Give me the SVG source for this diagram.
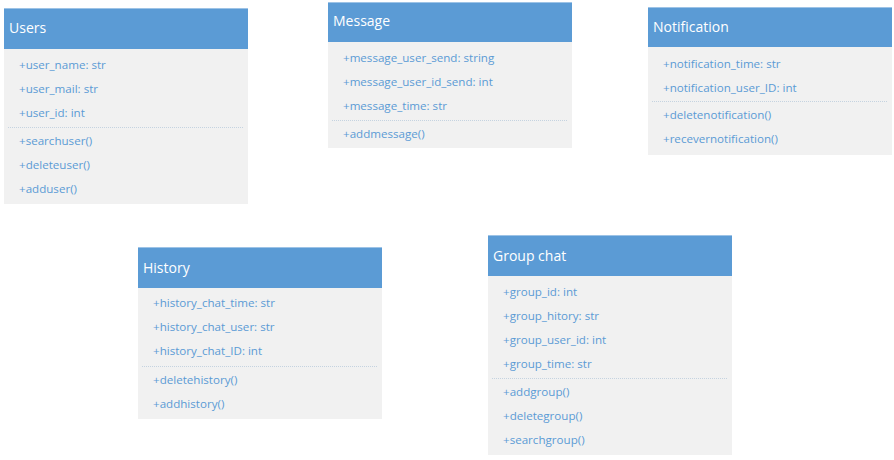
<svg xmlns="http://www.w3.org/2000/svg" width="894" height="460" viewBox="0 0 894 460">
<style>
.hd{fill:#5b9bd5}
.bd{fill:#f1f1f1}
.tl{stroke:#9dc3e6;stroke-width:1}
.sep{stroke:#c5d3e0;stroke-width:1;stroke-dasharray:1 1}
.ht{font-family:"Open Sans",sans-serif;font-size:14px;fill:#ffffff}
.rt{font-family:"Open Sans",sans-serif;font-size:11.6px;fill:#5b9bd5}
</style>
<rect width="894" height="460" fill="#ffffff"/>
<g id="users">
<rect class="hd" x="4" y="8" width="244" height="41"/>
<rect class="bd" x="4" y="49" width="244" height="155"/>
<line class="tl" x1="4" y1="8.5" x2="248" y2="8.5"/>
<text class="ht" x="9" y="33">Users</text>
<text class="rt" x="19" y="69">+user_name: str</text>
<text class="rt" x="19" y="93">+user_mail: str</text>
<text class="rt" x="19" y="117">+user_id: int</text>
<line class="sep" x1="8" y1="127.5" x2="244" y2="127.5"/>
<text class="rt" x="19" y="145">+searchuser()</text>
<text class="rt" x="19" y="169">+deleteuser()</text>
<text class="rt" x="19" y="193">+adduser()</text>
</g>
<g id="message">
<rect class="hd" x="328" y="2" width="244" height="40"/>
<rect class="bd" x="328" y="42" width="244" height="106"/>
<line class="tl" x1="328" y1="2.5" x2="572" y2="2.5"/>
<text class="ht" x="333" y="26">Message</text>
<text class="rt" x="343" y="62">+message_user_send: string</text>
<text class="rt" x="343" y="86">+message_user_id_send: int</text>
<text class="rt" x="343" y="110">+message_time: str</text>
<line class="sep" x1="332" y1="120.5" x2="568" y2="120.5"/>
<text class="rt" x="343" y="138">+addmessage()</text>
</g>
<g id="notification">
<rect class="hd" x="648" y="7" width="244" height="40"/>
<rect class="bd" x="648" y="47" width="244" height="108"/>
<line class="tl" x1="648" y1="7.5" x2="892" y2="7.5"/>
<text class="ht" x="653" y="32">Notification</text>
<text class="rt" x="663" y="68">+notification_time: str</text>
<text class="rt" x="663" y="92">+notification_user_ID: int</text>
<line class="sep" x1="652" y1="101.5" x2="888" y2="101.5"/>
<text class="rt" x="663" y="119">+deletenotification()</text>
<text class="rt" x="663" y="143">+recevernotification()</text>
</g>
<g id="history">
<rect class="hd" x="138" y="247" width="244" height="41"/>
<rect class="bd" x="138" y="288" width="244" height="131"/>
<line class="tl" x1="138" y1="247.5" x2="382" y2="247.5"/>
<text class="ht" x="143" y="273">History</text>
<text class="rt" x="153" y="307">+history_chat_time: str</text>
<text class="rt" x="153" y="331">+history_chat_user: str</text>
<text class="rt" x="153" y="355">+history_chat_ID: int</text>
<line class="sep" x1="142" y1="366.5" x2="378" y2="366.5"/>
<text class="rt" x="153" y="384">+deletehistory()</text>
<text class="rt" x="153" y="408">+addhistory()</text>
</g>
<g id="groupchat">
<rect class="hd" x="488" y="235" width="244" height="41"/>
<rect class="bd" x="488" y="276" width="244" height="179"/>
<line class="tl" x1="488" y1="235.5" x2="732" y2="235.5"/>
<text class="ht" x="493" y="261">Group chat</text>
<text class="rt" x="503" y="296">+group_id: int</text>
<text class="rt" x="503" y="320">+group_hitory: str</text>
<text class="rt" x="503" y="344">+group_user_id: int</text>
<text class="rt" x="503" y="368">+group_time: str</text>
<line class="sep" x1="492" y1="378.5" x2="728" y2="378.5"/>
<text class="rt" x="503" y="396">+addgroup()</text>
<text class="rt" x="503" y="420">+deletegroup()</text>
<text class="rt" x="503" y="444">+searchgroup()</text>
</g>
<g id="connectors"/>
</svg>
